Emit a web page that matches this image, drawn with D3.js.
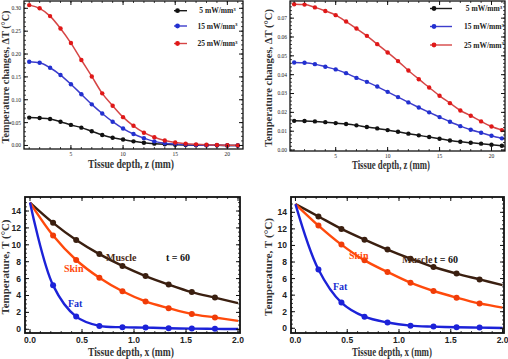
<!DOCTYPE html>
<html><head><meta charset="utf-8">
<script src="https://cdn.jsdelivr.net/npm/d3@7"></script>
<style>body{margin:0;background:#fff}svg{display:block}</style>
</head><body><svg id="c" width="508" height="359"></svg>
<script>
// ---------- DATA ----------
const depthZ = [1,2,3,4,5,6,7,8,9,10,11,12,13,14,15,16,17,18,19,20,21];
const powerLabels = ["5 mW/mm", "15 mW/mm", "25 mW/mm"];
// top-left panel: temperature change ΔT (°C)
const dTa_5  = [0.061,0.060,0.058,0.052,0.045,0.039,0.031,0.023,0.017,0.013,0.009,0.006,0.004,0.0025,0.0015,0.001,0.0007,0.0005,0.0003,0.0002,0.0001];
const dTa_15 = [0.183,0.181,0.170,0.154,0.134,0.112,0.090,0.070,0.052,0.037,0.025,0.016,0.009,0.005,0.003,0.002,0.001,0.0006,0.0004,0.0002,0.0001];
const dTa_25 = [0.307,0.300,0.283,0.256,0.224,0.187,0.151,0.114,0.087,0.062,0.043,0.028,0.018,0.011,0.0066,0.004,0.0025,0.0015,0.001,0.0006,0.0003];
// top-right panel
const dTb_5  = [0.0155,0.0154,0.0152,0.0148,0.0143,0.0138,0.0131,0.0122,0.0115,0.0106,0.0097,0.0087,0.0078,0.0069,0.0060,0.0051,0.0044,0.0039,0.0034,0.0028,0.0023];
const dTb_15 = [0.0465,0.0463,0.0456,0.0442,0.0428,0.0408,0.0383,0.0362,0.0337,0.0309,0.0281,0.0253,0.0226,0.0200,0.0175,0.0150,0.0127,0.0108,0.0092,0.0076,0.0062];
const dTb_25 = [0.0774,0.0772,0.0757,0.0738,0.0716,0.0682,0.0645,0.0606,0.0562,0.0518,0.0472,0.0422,0.0376,0.0332,0.0288,0.0249,0.0210,0.0182,0.0152,0.0125,0.0106];
// bottom panels: temperature T (°C) vs depth x (mm), t = 60
const depthX = [0, 0.222, 0.444, 0.667, 0.889, 1.111, 1.333, 1.556, 1.778, 2.0];
const tissueLabels = ["Muscle", "Skin", "Fat"];
const Ta_muscle = [15, 12.6, 10.57, 8.9, 7.5, 6.3, 5.3, 4.4, 3.75, 3.1];
const Ta_skin   = [15, 11.1, 8.2, 6.1, 4.5, 3.3, 2.5, 1.8, 1.4, 1.0];
const Ta_fat    = [15, 5.2, 1.5, 0.4, 0.25, 0.2, 0.12, 0.08, 0.05, 0.03];
const Tb_muscle = [15, 13.5, 12.0, 10.7, 9.5, 8.4, 7.4, 6.6, 5.9, 5.2];
const Tb_skin   = [15, 12.4, 10.1, 8.2, 6.8, 5.5, 4.5, 3.7, 3.0, 2.5];
const Tb_fat    = [15, 7.1, 3.1, 1.4, 0.7, 0.32, 0.2, 0.12, 0.08, 0.03];
const timeLabel = "t = 60";

// ---------- DRAW ----------
const svg = d3.select("#c");
const serif = "'Liberation Serif','Times New Roman',serif";
const sans = "'Liberation Sans',Arial,sans-serif";

function frame(g, x, y, o) {
  const [x0,x1] = x.range(), [y1,y0] = y.range();
  const tk = g.append("g").attr("stroke","#111");
  const add = (vals, len, w) => {
    vals.forEach(v => {
      const px = x(v);
      if (px > x0+0.5 && px < x1-0.5) {
        tk.append("line").attr("x1",px).attr("x2",px).attr("y1",y1).attr("y2",y1-len).attr("stroke-width",w);
        tk.append("line").attr("x1",px).attr("x2",px).attr("y1",y0).attr("y2",y0+len).attr("stroke-width",w);
      }
    });
  };
  const addY = (vals, len, w) => {
    vals.forEach(v => {
      const py = y(v);
      if (py > y0+0.5 && py < y1-0.5) {
        tk.append("line").attr("y1",py).attr("y2",py).attr("x1",x0).attr("x2",x0+len).attr("stroke-width",w);
        tk.append("line").attr("y1",py).attr("y2",py).attr("x1",x1).attr("x2",x1-len).attr("stroke-width",w);
      }
    });
  };
  add(o.xMinor, 2, 0.8); add(o.xMajor, 4, 1);
  addY(o.yMinor, 2, 0.8); addY(o.yMajor, 4, 1);
  g.append("rect").attr("x",x0).attr("y",y0).attr("width",x1-x0).attr("height",y1-y0)
    .attr("fill","none").attr("stroke","#111").attr("stroke-width",o.fw);
  // tick labels
  o.xMajor.forEach(v => g.append("text").attr("x",x(v)).attr("y",y1+o.xlOff)
    .attr("text-anchor","middle").attr("font-family",o.tf).attr("font-weight",o.tw)
    .attr("font-size",o.ts).attr("fill","#222").text(o.xFmt(v)));
  o.yMajor.forEach(v => g.append("text").attr("x",x0-o.ylOff).attr("y",y(v)).attr("dy","0.35em")
    .attr("text-anchor","end").attr("font-family",o.tf).attr("font-weight",o.tw)
    .attr("font-size",o.ts).attr("fill","#222").text(o.yFmt(v)));
  // axis titles
  g.append("text").attr("x",o.xt[0]).attr("y",o.xt[1]).attr("text-anchor","middle")
    .attr("font-family",serif).attr("font-weight","bold").attr("font-size",11.5)
    .attr("textLength",o.xt[2]).attr("lengthAdjust","spacingAndGlyphs").attr("fill","#333").text(o.xTitle);
  g.append("text").attr("transform",`translate(${o.yt[0]},${o.yt[1]}) rotate(-90)`).attr("text-anchor","middle")
    .attr("font-family",serif).attr("font-weight","bold").attr("font-size",11)
    .attr("textLength",o.yt[2]).attr("lengthAdjust","spacingAndGlyphs").attr("fill","#333").text(o.yTitle);
}

const rng = (a,b,s) => { const r=[]; for (let v=a; v<=b+1e-9; v+=s) r.push(+v.toFixed(6)); return r; };

// ----- top panels -----
const topColors = [{line:"#1a1a1a",mark:"#111"},{line:"#3d3dcc",mark:"#2230d0"},{line:"#d64545",mark:"#e01818"}];
function topPanel(cfg) {
  const g = svg.append("g");
  const x = d3.scaleLinear().domain(cfg.xd).range([cfg.fx0,cfg.fx1]);
  const y = d3.scaleLinear().domain(cfg.yd).range([cfg.fy1,cfg.fy0]);
  const line = d3.line().x((d,i)=>x(depthZ[i])).y(d=>y(d)).curve(d3.curveMonotoneX);
  cfg.series.forEach((s,k) => {
    g.append("path").attr("d",line(s)).attr("fill","none").attr("stroke",topColors[k].line).attr("stroke-width",1.5);
  });
  cfg.series.forEach((s,k) => {
    g.selectAll(null).data(s).join("circle").attr("cx",(d,i)=>x(depthZ[i])).attr("cy",d=>y(d))
      .attr("r",2.2).attr("fill",topColors[k].mark);
  });
  frame(g, x, y, {
    xMajor:[5,10,15,20], xMinor:rng(1,21,1),
    yMajor:cfg.yMajor, yMinor:cfg.yMinor, fw:1.3,
    tf:serif, tw:"normal", ts:5.5, xlOff:7, ylOff:3,
    xFmt:d3.format("d"), yFmt:d3.format(".2f"),
    xt:cfg.xt, yt:cfg.yt, xTitle:"Tissue depth, z (mm)", yTitle:"Temperature changes, ΔT (°C)"
  });
  // legend
  powerLabels.forEach((lab,k) => {
    const ly = cfg.leg.ys[k];
    g.append("line").attr("x1",cfg.leg.lx0).attr("x2",cfg.leg.lx1).attr("y1",ly).attr("y2",ly)
      .attr("stroke",topColors[k].line).attr("stroke-width",1.4);
    g.append("circle").attr("cx",cfg.leg.mx).attr("cy",ly).attr("r",2.4).attr("fill",topColors[k].mark);
    const t = g.append("text").attr("x",cfg.leg.tx).attr("y",ly).attr("dy","0.35em").attr("text-anchor","middle")
      .attr("font-family",serif).attr("font-weight","bold").attr("font-size",7.5).attr("fill","#222").text(lab);
    t.append("tspan").attr("dy","-0.45em").attr("font-size",5).text("3");
  });
}

topPanel({
  fx0:24, fx1:243, fy0:1, fy1:149, xd:[0.5,21.5], yd:[-0.0077,0.316],
  series:[dTa_5,dTa_15,dTa_25],
  yMajor:[0,0.05,0.10,0.15,0.20,0.25,0.30], yMinor:rng(0,0.31,0.01),
  xt:[131,168,86], yt:[9,77,133],
  leg:{ys:[10.7,26,43.5], lx0:174, lx1:187, mx:177.5, tx:217.5}
});
topPanel({
  fx0:290, fx1:505, fy0:1, fy1:151, xd:[0.6,21.3], yd:[-0.0005,0.0791],
  series:[dTb_5,dTb_15,dTb_25],
  yMajor:[0,0.01,0.02,0.03,0.04,0.05,0.06,0.07], yMinor:rng(0,0.078,0.002),
  xt:[391,169,78], yt:[272,78,138],
  leg:{ys:[8.5,26.5,45], lx0:430, lx1:452, mx:434, tx:484}
});

// ----- bottom panels -----
const botColors = [{line:"#3a1f10",mark:"#3a1f10",text:"#4a2a14"},{line:"#ff4a0c",mark:"#f03c08",text:"#ff4a0c"},{line:"#1c22d8",mark:"#1c22d8",text:"#2030d0"}];
function botPanel(cfg) {
  const g = svg.append("g");
  const x = d3.scaleLinear().domain(cfg.xd).range([cfg.fx0,cfg.fx1]);
  const y = d3.scaleLinear().domain(cfg.yd).range([cfg.fy1,cfg.fy0]);
  const line = d3.line().x((d,i)=>x(depthX[i])).y(d=>y(d)).curve(d3.curveCatmullRom.alpha(0.5));
  const clip = "clip"+cfg.id;
  g.append("clipPath").attr("id",clip).append("rect").attr("x",cfg.fx0).attr("y",cfg.fy0)
    .attr("width",cfg.fx1-cfg.fx0).attr("height",cfg.fy1-cfg.fy0);
  const pg = g.append("g").attr("clip-path",`url(#${clip})`);
  cfg.series.forEach((s,k) => {
    pg.append("path").attr("d",line(s)).attr("fill","none").attr("stroke",botColors[k].line).attr("stroke-width",2.4);
  });
  cfg.series.forEach((s,k) => {
    pg.selectAll(null).data(s.slice(1,-1)).join("circle").attr("cx",(d,i)=>x(depthX[i+1])).attr("cy",d=>y(d))
      .attr("r",3).attr("fill",botColors[k].mark);
  });
  frame(g, x, y, {
    xMajor:[0,0.5,1.0,1.5,2.0], xMinor:rng(0,2,0.1),
    yMajor:[0,2,4,6,8,10,12,14], yMinor:rng(0,15,0.5), fw:1.8,
    tf:sans, tw:"bold", ts:8.5, xlOff:9.5, ylOff:4,
    xFmt:d3.format(".1f"), yFmt:d3.format("d"),
    xt:cfg.xt, yt:cfg.yt, xTitle:"Tissue depth, x (mm)", yTitle:"Temperature, T (°C)"
  });
  tissueLabels.forEach((lab,k) => {
    g.append("text").attr("x",cfg.lab[k][0]).attr("y",cfg.lab[k][1]).attr("font-family",serif)
      .attr("font-weight","bold").attr("font-size",10).attr("fill",botColors[k].text).text(lab);
  });
  g.append("text").attr("x",cfg.tl[0]).attr("y",cfg.tl[1]).attr("font-family",serif)
    .attr("font-weight","bold").attr("font-size",10).attr("fill","#111").text(timeLabel);
}

botPanel({
  id:"a", fx0:25, fx1:240, fy0:197, fy1:333, xd:[-0.048,2.019], yd:[-0.44,15.66],
  series:[Ta_muscle,Ta_skin,Ta_fat],
  xt:[131,356,86], yt:[9,267,95],
  lab:[[106,261],[64,272],[68,307]], tl:[166,261]
});
botPanel({
  id:"b", fx0:291, fx1:504, fy0:197, fy1:333, xd:[-0.043,2.014], yd:[-0.57,15.85],
  series:[Tb_muscle,Tb_skin,Tb_fat],
  xt:[392,356,80], yt:[272,267,98],
  lab:[[402,263],[349,259],[333,290]], tl:[434,263]
});
</script></body></html>
